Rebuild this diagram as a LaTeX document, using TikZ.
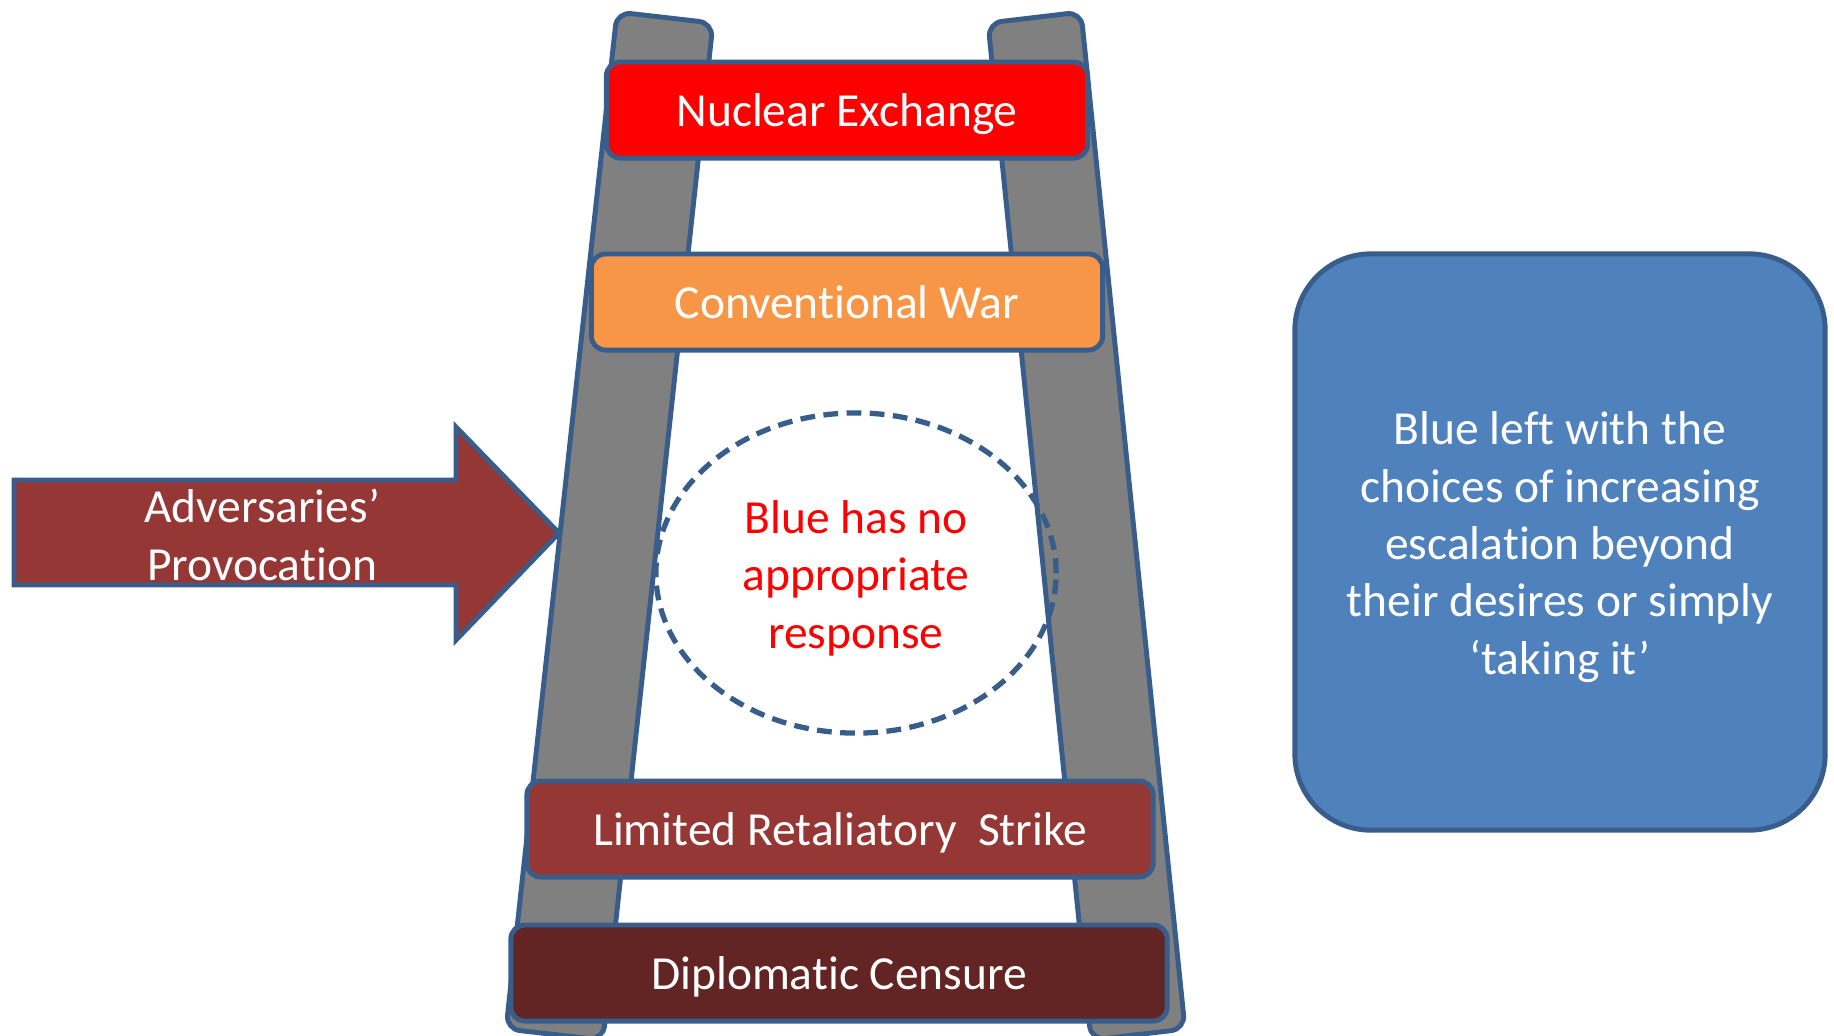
\documentclass[tikz,border=0pt]{standalone}
\usepackage{fontspec}
\setmainfont{Carlito}[Ligatures={NoCommon,NoContextual}]
\usepackage{tikz}
\usetikzlibrary{shapes.geometric}

\definecolor{edgeblue}{RGB}{56,93,138}
\definecolor{railgray}{RGB}{128,128,128}
\definecolor{nukered}{RGB}{255,0,0}
\definecolor{warorange}{RGB}{247,150,70}
\definecolor{strikered}{RGB}{149,55,53}
\definecolor{censurered}{RGB}{99,37,35}
\definecolor{boxblue}{RGB}{79,129,189}
\newcommand{\slidefont}{\fontsize{13.5}{16.3}\selectfont}
\def\padtop{\rule{0pt}{12.3pt}}

\tikzset{
  rung/.style={draw=edgeblue, line width=1.4pt, rounded corners=0.14cm, text=white, minimum height=0.96cm, text height=12.5pt, text depth=3pt, font=\slidefont},
  rail/.style={draw=edgeblue, line width=1.4pt, fill=railgray, rounded corners=0.14cm},
}

\begin{document}
\begin{tikzpicture}[x=0.01cm, y=-0.01cm]
		%%%%% START %%%%%
		\useasboundingbox (0,0) rectangle (1834,1035);
		
		% ladder rails
		\draw[rail] (617,12) -- (713,23) -- (603,1040) -- (506,1029) -- cycle;
		\draw[rail] (988,23) -- (1081,12) -- (1185,1029) -- (1091,1040) -- cycle;
		
		% provocation arrow
		\draw[draw=edgeblue, line width=1.4pt, fill=strikered] (14,480) -- (456,480) -- (456,427) -- (559,533) -- (456,640) -- (456,585) -- (14,585) -- cycle;
		\node[font=\slidefont, text=white, align=center] (provocation) at (262,535) {Adversaries’\\Provocation};
		
		% rungs
		\node[rung, fill=nukered, minimum width=4.81cm] (nuclear) at (847,110) {Nuclear Exchange};
		\node[rung, fill=warorange, minimum width=5.11cm] (conventional) at (847,302) {Conventional War};
		\node[rung, fill=strikered, minimum width=6.26cm] (limited) at (840,829) {Limited Retaliatory\ \ Strike};
		\node[rung, fill=censurered, minimum width=6.56cm] (censure) at (839,973) {Diplomatic Censure};
		
		\node[ellipse, draw=edgeblue, line width=1.5pt, dash pattern=on 4.2pt off 2.4pt, minimum width=4cm, minimum height=3.2cm, text=red, align=center, font=\slidefont] (gap) at (856,573) {\padtop Blue has no\\appropriate\\response};
		
		\node[draw=edgeblue, line width=1.4pt, fill=boxblue, rounded corners=0.76cm, minimum width=5.3cm, minimum height=5.76cm, text=white, align=center, font=\slidefont] (outcome) at (1560,542) {\padtop Blue left with the\\choices of increasing\\escalation beyond\\their desires or simply\\‘taking it’};
		
		\node[font=\fontsize{8}{9}\selectfont, text=black!70, anchor=north] (pagenum) at (927,1029) {15};
		
		%%%%% END %%%%%
\end{tikzpicture}
\end{document}
